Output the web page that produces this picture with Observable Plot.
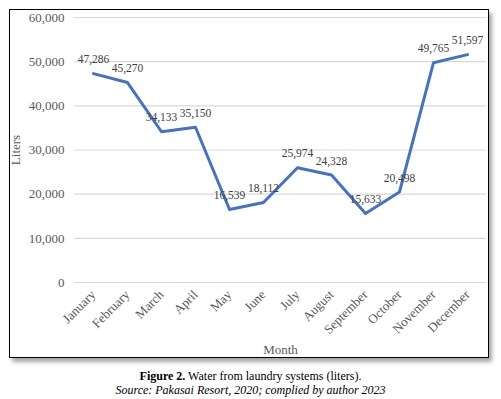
<!DOCTYPE html>
<html>
<head>
<meta charset="utf-8">
<script src="https://cdn.jsdelivr.net/npm/d3@7"></script>
<script src="https://cdn.jsdelivr.net/npm/@observablehq/plot@0.6"></script>
<style>
  html, body { margin: 0; padding: 0; background: #fff; }
  body { width: 501px; height: 399px; position: relative; overflow: hidden; font-family: "Liberation Serif", "Times New Roman", serif; }
  #box { position: absolute; left: 9px; top: 9px; width: 478px; height: 347px; border: 1.5px solid #000; background: #fff; box-shadow: 3px 4px 4px rgba(0,0,0,0.35); }
  #box svg { display: block; }
  #cap { position: absolute; left: 0; top: 369px; width: 501px; text-align: center; font-size: 12px; line-height: 14px; color: #000; }
  #cap .src { font-style: italic; }
</style>
</head>
<body>
<div id="box"></div>
<div id="cap">
  <div><b>Figure 2.</b> Water from laundry systems (liters).</div>
  <div class="src">Source: Pakasai Resort, 2020; complied by author 2023</div>
</div>
<script>
const months = ["January","February","March","April","May","June","July","August","September","October","November","December"];
const liters = [47286, 45270, 34133, 35150, 16539, 18112, 25974, 24328, 15633, 20498, 49765, 51597];
const yTicks = [0, 10000, 20000, 30000, 40000, 50000, 60000];

const data = months.map((m, i) => ({month: m, liters: liters[i]}));
const fmt = d3.format(",");

const chart = Plot.plot({
  width: 478,
  height: 347,
  marginTop: 7,
  marginBottom: 75,
  marginLeft: 64,
  marginRight: 2,
  style: {fontFamily: "'Liberation Serif', 'Times New Roman', serif", fontSize: "13px", color: "#595959", background: "white", overflow: "visible"},
  x: {type: "point", domain: months, padding: 0.5},
  y: {domain: [0, 60000]},
  marks: [
    Plot.ruleY(yTicks, {stroke: "#d9d9d9", strokeWidth: 1.2}),
    Plot.axisY({ticks: yTicks, tickSize: 0, tickPadding: 10, tickFormat: fmt, label: "Liters", labelAnchor: "center", labelArrow: "none", labelOffset: 64, fill: "#595959"}),
    Plot.axisX({tickSize: 0, tickRotate: -45, tickPadding: 10, label: "Month", labelAnchor: "center", labelArrow: "none", labelOffset: 71, fill: "#595959"}),
    Plot.line(data, {x: "month", y: "liters", stroke: "#4472C4", strokeWidth: 3}),
    Plot.text(data, {x: "month", y: "liters", text: d => fmt(d.liters), dy: -14, fontSize: 11.5, fill: "#404040"})
  ]
});
document.getElementById("box").appendChild(chart);
</script>
</body>
</html>
